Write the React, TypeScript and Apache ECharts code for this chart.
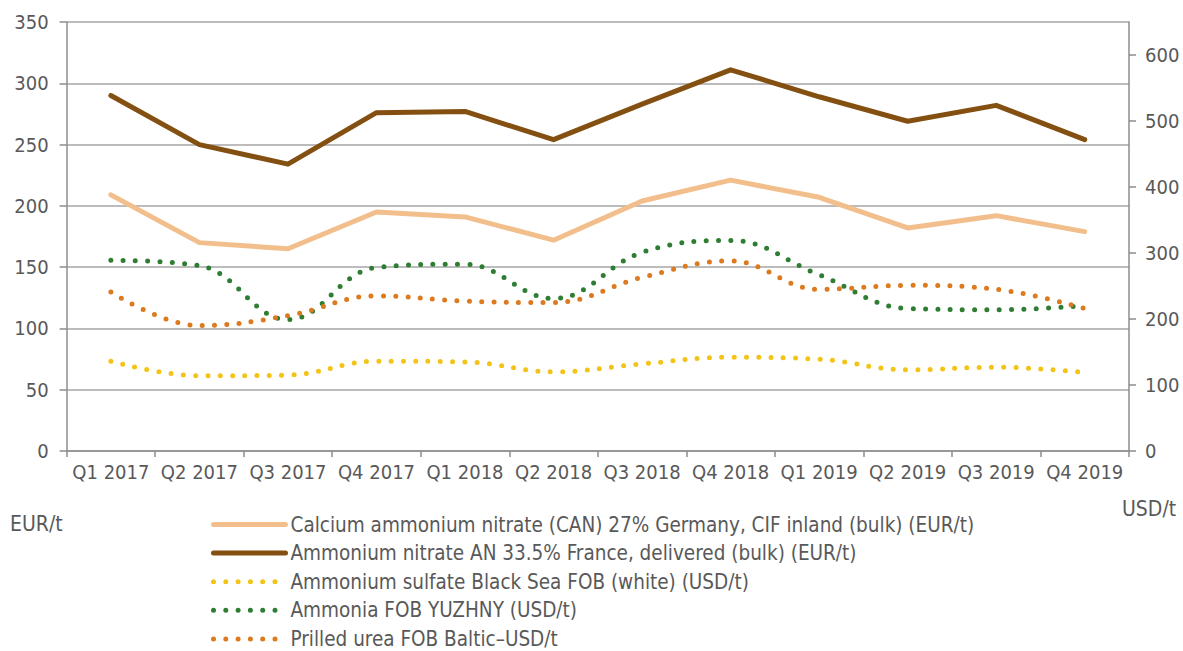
import React, { useEffect, useRef } from "react";
import * as echarts from "echarts";

const categories = [
  "Q1 2017", "Q2 2017", "Q3 2017", "Q4 2017",
  "Q1 2018", "Q2 2018", "Q3 2018", "Q4 2018",
  "Q1 2019", "Q2 2019", "Q3 2019", "Q4 2019",
];

// EUR/t (left axis)
const canGermany = [209, 170, 165, 195, 191, 172, 204, 221, 207, 182, 192, 179];
const anFrance = [290, 250, 234, 276, 277, 254, 283, 311, 289, 269, 282, 254];
// USD/t (right axis)
const sulfateBlackSea = [136, 114, 115, 136, 135, 120, 132, 142, 139, 123, 127, 119];
const ammoniaYuzhny = [289, 281, 199, 278, 283, 231, 301, 319, 267, 216, 214, 220];
const ureaBaltic = [241, 190, 205, 235, 227, 225, 263, 288, 245, 251, 245, 216];

const seriesNames = [
  "Calcium ammonium nitrate (CAN) 27% Germany, CIF inland (bulk) (EUR/t)",
  "Ammonium nitrate AN 33.5% France, delivered (bulk) (EUR/t)",
  "Ammonium sulfate Black Sea FOB (white) (USD/t)",
  "Ammonia FOB YUZHNY (USD/t)",
  "Prilled urea FOB Baltic\u2013USD/t",
];

const leftTicks = { min: 0, max: 350, interval: 50 };
const rightTicks = { min: 0, max: 650, interval: 100 };

const FONT = "'DejaVu Sans Condensed', 'DejaVu Sans', sans-serif";
const TEXT = "#595959";
const AXIS = "#8C8C8C";
const GRIDC = "#A6A6A6";

export default function App() {
  const ref = useRef<HTMLDivElement>(null);
  useEffect(() => {
    if (!ref.current) return;
    const chart = echarts.init(ref.current, undefined, { renderer: "svg" });
    const dotted = (color: string) => ({
      color,
      width: 5,
      type: [0, 12.3],
      cap: "round",
    });
    chart.setOption({
      animation: false,
      textStyle: { fontFamily: FONT },
      grid: { left: 66.6, right: 54, top: 22, bottom: 200, containLabel: false },
      legend: {
        orient: "vertical",
        left: 211,
        top: 514,
        height: 150,
        padding: 0,
        itemWidth: 72,
        itemHeight: 5,
        itemGap: 7.6,
        itemStyle: { opacity: 0 },
        lineStyle: { width: 5 },
        textStyle: { fontFamily: FONT, fontSize: 20.5, color: TEXT, lineHeight: 18 },
        data: seriesNames,
      },
      graphic: [
        {
          type: "text",
          left: 10,
          top: 513,
          style: { text: "EUR/t", fontFamily: FONT, fontSize: 21, fill: TEXT },
        },
        {
          type: "text",
          left: 1122,
          top: 498,
          style: { text: "USD/t", fontFamily: FONT, fontSize: 21, fill: TEXT },
        },
      ],
      xAxis: {
        type: "category",
        data: categories,
        boundaryGap: true,
        axisLine: { lineStyle: { color: AXIS, width: 1.5 } },
        axisTick: { show: true, length: 6, lineStyle: { color: AXIS, width: 1.5 } },
        axisLabel: { color: TEXT, fontSize: 20, fontFamily: FONT, margin: 11, interval: 0 },
        splitLine: { show: false },
      },
      yAxis: [
        {
          type: "value",
          position: "left",
          ...leftTicks,
          axisLine: { show: true, lineStyle: { color: AXIS, width: 1.5 } },
          axisTick: { show: true, length: 7, lineStyle: { color: AXIS, width: 1.5 } },
          axisLabel: { color: TEXT, fontSize: 20, fontFamily: FONT, margin: 18 },
          splitLine: { show: true, lineStyle: { color: GRIDC, width: 1.5 } },
        },
        {
          type: "value",
          position: "right",
          ...rightTicks,
          axisLine: { show: true, lineStyle: { color: AXIS, width: 1.5 } },
          axisTick: { show: true, length: 7, lineStyle: { color: AXIS, width: 1.5 } },
          axisLabel: { color: TEXT, fontSize: 20, fontFamily: FONT, margin: 16, showMaxLabel: false },
          splitLine: { show: false },
        },
      ],
      series: [
        {
          name: seriesNames[0],
          type: "line",
          yAxisIndex: 0,
          data: canGermany,
          symbol: "none",
          color: "#F2BF8C",
          lineStyle: { color: "#F2BF8C", width: 5, cap: "round", join: "round" },
        },
        {
          name: seriesNames[1],
          type: "line",
          yAxisIndex: 0,
          data: anFrance,
          symbol: "none",
          color: "#845012",
          lineStyle: { color: "#845012", width: 5, cap: "round", join: "round" },
        },
        {
          name: seriesNames[2],
          type: "line",
          yAxisIndex: 1,
          data: sulfateBlackSea,
          symbol: "none",
          smooth: 0.4,
          color: "#F3C317",
          lineStyle: dotted("#F3C317"),
        },
        {
          name: seriesNames[3],
          type: "line",
          yAxisIndex: 1,
          data: ammoniaYuzhny,
          symbol: "none",
          smooth: 0.4,
          color: "#2E7D32",
          lineStyle: dotted("#2E7D32"),
        },
        {
          name: seriesNames[4],
          type: "line",
          yAxisIndex: 1,
          data: ureaBaltic,
          symbol: "none",
          smooth: 0.4,
          color: "#DB7A1E",
          lineStyle: dotted("#DB7A1E"),
        },
      ],
    });
    return () => chart.dispose();
  }, []);
  return <div ref={ref} style={{ width: 1183, height: 651, position: "absolute", left: 0, top: 0 }} />;
}
